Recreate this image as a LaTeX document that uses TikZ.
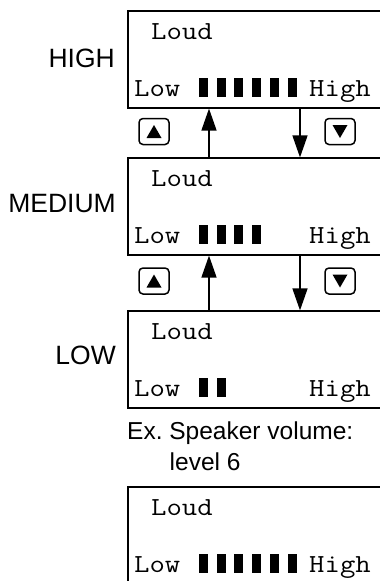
\documentclass[tikz,border=0pt]{standalone}
\usepackage{fontspec}
\setmainfont{Liberation Sans}
\newfontfamily\lcdfont[FakeStretch=1.15]{Latin Modern Mono}
\usetikzlibrary{arrows.meta}
\begin{document}
\begin{tikzpicture}[x=1pt,y=-1pt,
  lcdbox/.style={draw, line width=1.2pt, minimum width=270pt, minimum height=97pt, inner sep=0pt},
  lcdtxt/.style={font=\lcdfont\fontsize{26}{30}\selectfont, anchor=base west, inner sep=0pt},
  lbl/.style={font=\fontsize{26.5}{30}\selectfont, anchor=base east, inner sep=0pt},
  note/.style={font=\fontsize{24.5}{30}\selectfont, anchor=base west, inner sep=0pt},
  btn/.style={draw, line width=1.5pt, rounded corners=4pt, minimum width=30pt, minimum height=26pt, inner sep=0pt},
  arr/.style={line width=1.5pt, -{Triangle[length=22pt,width=15pt]}}
]
\useasboundingbox (0,0) rectangle (380,581);
\clip (0,0) rectangle (380,581);
% boxes
\node[lcdbox] (b1) at (263,59.5) {};
\node[lcdbox] (b2) at (263,206.5) {};
\node[lcdbox] (b3) at (263,359.5) {};
\node[lcdbox] (b4) at (263,535.5) {};
% texts and bars
\foreach \t/\n [count=\k] in {11/5,158/3,311/1,487/5} {
  \node[lcdtxt] (loud\k) at (151,\t+28) {Loud};
  \node[lcdtxt] (low\k) at (134,\t+85) {Low};
  \node[lcdtxt] (high\k) at (309,\t+85) {High};
  \foreach \i in {0,...,\n} \fill (199+17.7*\i,\t+67) rectangle ++(9,18.5);
}
% level labels
\node[lbl] (lh) at (115,67) {HIGH};
\node[lbl] (lm) at (116,212) {MEDIUM};
\node[lbl] (ll) at (116,364) {LOW};
% arrows
\coordinate (up) at (209,0);
\coordinate (dn) at (300,0);
\draw[arr] (b2.north -| up) -- (b1.south -| up);
\draw[arr] (b1.south -| dn) -- (b2.north -| dn);
\draw[arr] (b3.north -| up) -- (b2.south -| up);
\draw[arr] (b2.south -| dn) -- (b3.north -| dn);
% buttons
\node[btn] (u1) at (154,131.5) {};
\node[btn] (d1) at (340,131.5) {};
\node[btn] (u2) at (154,281) {};
\node[btn] (d2) at (340,281) {};
\foreach \b in {u1,u2} \fill (\b.center) ++(-7.5,6.5) -- ++(15,0) -- ++(-7.5,-13) -- cycle;
\foreach \b in {d1,d2} \fill (\b.center) ++(-7.5,-6.5) -- ++(15,0) -- ++(-7.5,13) -- cycle;
% note
\node[note] (n1) at (127,439) {Ex.\ Speaker volume:};
\node[note] (n2) at (169.5,470) {level 6};
\end{tikzpicture}
\end{document}
